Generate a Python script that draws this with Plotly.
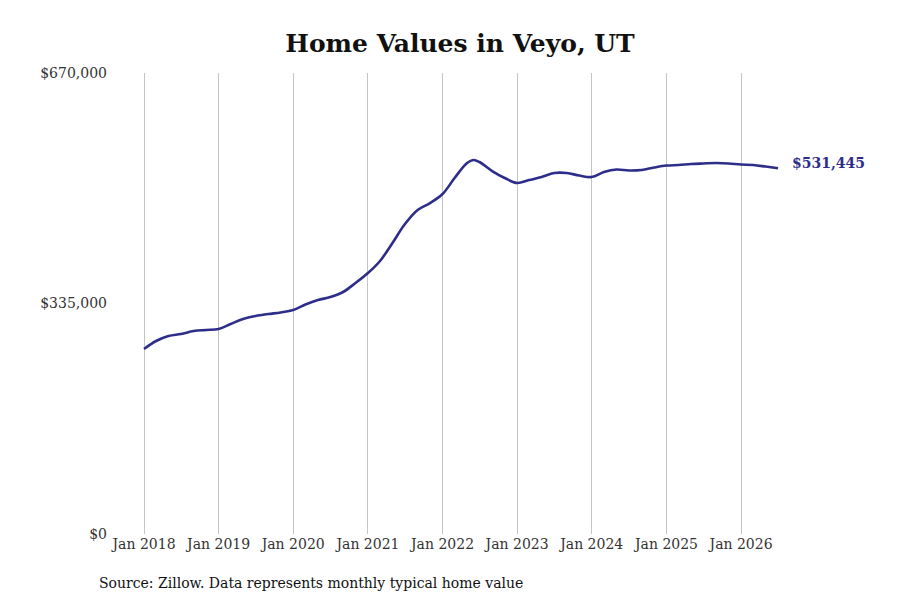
import plotly.graph_objects as go

dates = [
    "2018-01-01", "2018-03-01", "2018-05-01", "2018-07-01", "2018-09-01", "2018-11-01",
    "2019-01-01", "2019-03-01", "2019-05-01", "2019-07-01", "2019-09-01", "2019-11-01",
    "2020-01-01", "2020-03-01", "2020-05-01", "2020-07-01", "2020-09-01", "2020-11-01",
    "2021-01-01", "2021-03-01", "2021-05-01", "2021-07-01", "2021-09-01", "2021-11-01",
    "2022-01-01", "2022-03-01", "2022-05-01", "2022-06-01", "2022-07-01", "2022-09-01", "2022-11-01",
    "2023-01-01", "2023-03-01", "2023-05-01", "2023-07-01", "2023-09-01", "2023-11-01",
    "2024-01-01", "2024-03-01", "2024-05-01", "2024-07-01", "2024-09-01", "2024-11-01",
    "2025-01-01", "2025-03-01", "2025-05-01", "2025-07-01", "2025-09-01", "2025-11-01",
    "2026-01-01", "2026-03-01", "2026-05-01", "2026-07-01",
]
values = [
    268900, 280500, 287700, 290700, 295000, 296500,
    298000, 305200, 312500, 316800, 319700, 322000,
    325500, 333500, 340000, 344400, 351700, 364800,
    379300, 396800, 423000, 450500, 470900, 481000,
    494100, 517400, 539200, 543600, 540600, 527500, 517400,
    510100, 514500, 518800, 524700, 524700, 521000,
    518800, 526000, 529700, 528300, 529000, 532600,
    535500, 536300, 537700, 538500, 539200, 538500,
    537000, 536300, 534000, 531445,
]
tick_dates = ["2018-01-01", "2019-01-01", "2020-01-01", "2021-01-01", "2022-01-01",
              "2023-01-01", "2024-01-01", "2025-01-01", "2026-01-01"]
tick_labels = ["Jan 2018", "Jan 2019", "Jan 2020", "Jan 2021", "Jan 2022",
               "Jan 2023", "Jan 2024", "Jan 2025", "Jan 2026"]
y_ticks = [0, 335000, 670000]
y_labels = ["$0", "$335,000", "$670,000"]

line_color = "#2e2e8a"
font_family = "DejaVu Serif"

W, H = 900, 600
ML, MR, MT, MB = 107, 123, 65, 74
PW, PH = W - ML - MR, H - MT - MB

fig = go.Figure()
fig.add_trace(go.Scatter(
    x=dates, y=values, mode="lines",
    line=dict(color=line_color, width=2.6, shape="spline", smoothing=1.0),
    hoverinfo="skip", showlegend=False,
))

fig.add_annotation(
    x=dates[-1], y=values[-1], xref="x", yref="y",
    text=f"<b>${values[-1]:,}</b>", showarrow=False,
    xanchor="left", xshift=12, yshift=5,
    font=dict(family=font_family, size=14, color=line_color),
)
fig.add_annotation(
    x=(89 - ML) / PW, y=-(575 - (H - MB)) / PH, xref="paper", yref="paper",
    text="Source: Zillow. Data represents monthly typical home value",
    showarrow=False, xanchor="left", yanchor="middle",
    font=dict(family=font_family, size=14, color="#111"),
)

fig.update_layout(
    width=W, height=H,
    margin=dict(l=ML, r=MR, t=MT, b=MB),
    paper_bgcolor="white", plot_bgcolor="white",
    title=dict(text="<b>Home Values in Veyo, UT</b>", x=452 / W, xref="container",
               y=1 - 35 / H, yref="container", xanchor="center", yanchor="middle",
               font=dict(family=font_family, size=25, color="#111")),
    font=dict(family=font_family, size=14, color="#333"),
    xaxis=dict(
        range=["2017-08-12", "2026-08-04"],
        tickvals=tick_dates, ticktext=tick_labels,
        showgrid=True, gridcolor="#c4c4c4", gridwidth=1,
        zeroline=False, showline=False, ticks="",
        tickfont=dict(family=font_family, size=14, color="#333"),
    ),
    yaxis=dict(
        range=[0, 670000], tickvals=y_ticks, ticktext=y_labels,
        showgrid=False, zeroline=False, showline=False, ticks="",
        ticklabelstandoff=7,
        tickfont=dict(family=font_family, size=14, color="#333"),
    ),
)

fig.write_html("out.html")
